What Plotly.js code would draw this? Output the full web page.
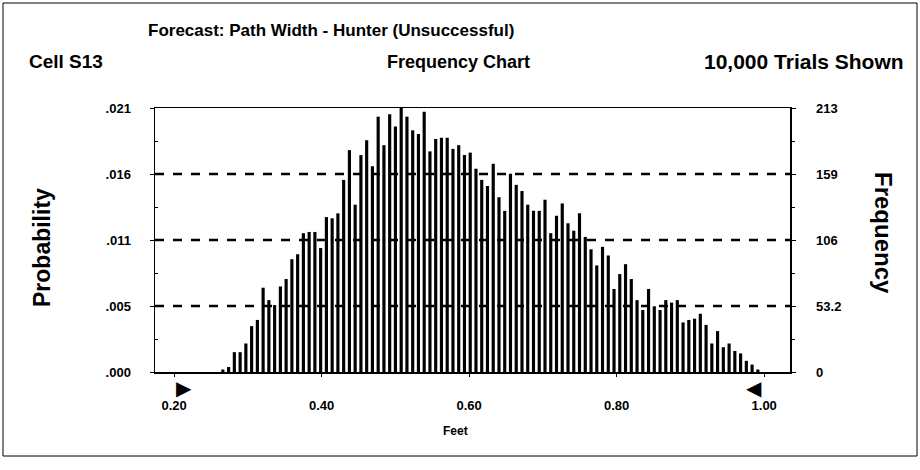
<!DOCTYPE html>
<html><head><meta charset="utf-8">
<script src="https://cdn.plot.ly/plotly-3.0.1.min.js"></script>
<style>html,body{margin:0;padding:0;background:#fff}</style>
</head><body><div id="chart" style="width:920px;height:470px"></div>
<script>
// ---- data ----
const chartTitle = "Forecast: Path Width - Hunter (Unsuccessful)";
const cellLabel = "Cell S13";
const chartKind = "Frequency Chart";
const trialsLabel = "10,000 Trials Shown";
const xTitle = "Feet";
const leftTitle = "Probability";
const rightTitle = "Frequency";
const trials = 10000;
const binStart = 0.266;
const binWidth = 0.0078;
const frequencies = [2,4,16,16,23,37,42,68,58,54,69,75,91,95,112,113,113,100,125,124,
  128,155,179,135,175,187,166,206,183,208,198,213,206,195,192,210,178,188,189,189,
  180,183,175,177,164,155,150,168,141,130,160,151,146,135,130,130,139,112,126,136,
  120,114,128,109,99,86,101,94,67,79,87,75,58,50,67,53,50,58,56,58,
  40,42,43,47,38,23,33,20,23,17,15,9,6,2];
const xTicks = [0.20,0.40,0.60,0.80,1.00];
const xTickText = ["0.20","0.40","0.60","0.80","1.00"];
const freqTicks = [0,53.25,106.5,159.75,213];
const freqTickText = ["0","53.2","106","159","213"];
const probTickText = [".000",".005",".011",".016",".021"];
const rangeMarkers = [0.20,1.00];
const xRange = [0.174,1.035];

// ---- layout helpers ----
const W=920,H=470,L=155,R=130,T=108,B=98;
const pw=W-L-R, ph=H-T-B;
const px=x=>(x-L)/pw, py=y=>(H-B-y)/ph;
const F="'Liberation Sans',Arial,sans-serif";

const traces=[
  {type:'bar', x0:binStart, dx:binWidth, y:frequencies, yaxis:'y2',
   marker:{color:'#000',line:{width:0}}, hoverinfo:'skip'},
  {type:'scatter', mode:'markers', x:[binStart], y:[0], yaxis:'y', marker:{opacity:0}, hoverinfo:'skip'}
];

const shapes = freqTicks.slice(1,-1).map(v=>({type:'line',xref:'paper',x0:0,x1:1,yref:'y2',y0:v,y1:v,
  line:{color:'#000',width:2.5,dash:'dash'},layer:'above'}));
shapes.push({type:'rect',xref:'paper',yref:'paper',x0:px(3),x1:px(917),y0:py(456),y1:py(3),
  line:{color:'#000',width:1}});

const hdr=(text,x,y,anchor,size)=>({text:text,x:px(x),y:py(y),xref:'paper',yref:'paper',xanchor:anchor,yanchor:'middle',
  showarrow:false,font:{family:F,size:size,color:'#000',weight:'bold'}});
const annotations=[
  hdr(chartTitle,331,31,'center',17),
  hdr(cellLabel,27,62,'left',19),
  hdr(chartKind,458,62,'center',18),
  hdr(trialsLabel,906,61,'right',21),
  {text:leftTitle,x:px(42),y:py(247),xref:'paper',yref:'paper',xanchor:'center',yanchor:'middle',textangle:-90,showarrow:false,font:{family:F,size:23,color:'#000',weight:'bold'}},
  {text:rightTitle,x:px(884),y:py(233),xref:'paper',yref:'paper',xanchor:'center',yanchor:'middle',textangle:90,showarrow:false,font:{family:F,size:24,color:'#000',weight:'bold'}},
  hdr(xTitle,455,431,'center',12),
  {text:'\u25B6',x:rangeMarkers[0],xref:'x',y:0,yref:'paper',xanchor:'left',yanchor:'top',yshift:-2,showarrow:false,
   font:{family:'DejaVu Sans',size:20,color:'#000'}},
  {text:'\u25C0',x:rangeMarkers[1],xref:'x',y:0,yref:'paper',xanchor:'right',yanchor:'top',yshift:-2,showarrow:false,
   font:{family:'DejaVu Sans',size:20,color:'#000'}}
];

const tf={family:F,size:13,color:'#000',weight:'bold'};
const layout={
  width:W,height:H,margin:{l:L,r:R,t:T,b:B,pad:0},
  paper_bgcolor:'#fff',plot_bgcolor:'#fff',showlegend:false,bargap:0.45,
  xaxis:{range:xRange,tickmode:'array',tickvals:xTicks,ticktext:xTickText,showgrid:false,zeroline:false,
    showline:true,linecolor:'#000',linewidth:1.5,mirror:true,ticks:'outside',ticklen:3,tickcolor:'#000',
    tickfont:tf,ticklabelstandoff:18,fixedrange:true},
  yaxis:{range:[0,freqTicks[4]/trials],tickmode:'array',tickvals:freqTicks.map(v=>v/trials),ticktext:probTickText,
    showgrid:false,zeroline:false,showline:true,linecolor:'#000',linewidth:1.5,ticks:'outside',ticklen:4,tickcolor:'#000',
    minor:{ticks:'inside',ticklen:3,tickcolor:'#000',tickvals:freqTicks.slice(0,-1).map((v,i)=>(v+freqTicks[i+1])/2/trials)},
    tickfont:tf,ticklabelstandoff:16,fixedrange:true},
  yaxis2:{range:[0,freqTicks[4]],overlaying:'y',side:'right',tickmode:'array',tickvals:freqTicks,ticktext:freqTickText,
    showgrid:false,zeroline:false,showline:true,linecolor:'#000',linewidth:1.5,ticks:'outside',ticklen:4,tickcolor:'#000',
    minor:{ticks:'outside',ticklen:3,tickcolor:'#000',tickvals:freqTicks.slice(0,-1).map((v,i)=>(v+freqTicks[i+1])/2)},
    tickfont:tf,ticklabelstandoff:18,fixedrange:true},
  shapes:shapes,annotations:annotations
};
Plotly.newPlot('chart',traces,layout,{staticPlot:true,displayModeBar:false});
</script></body></html>
